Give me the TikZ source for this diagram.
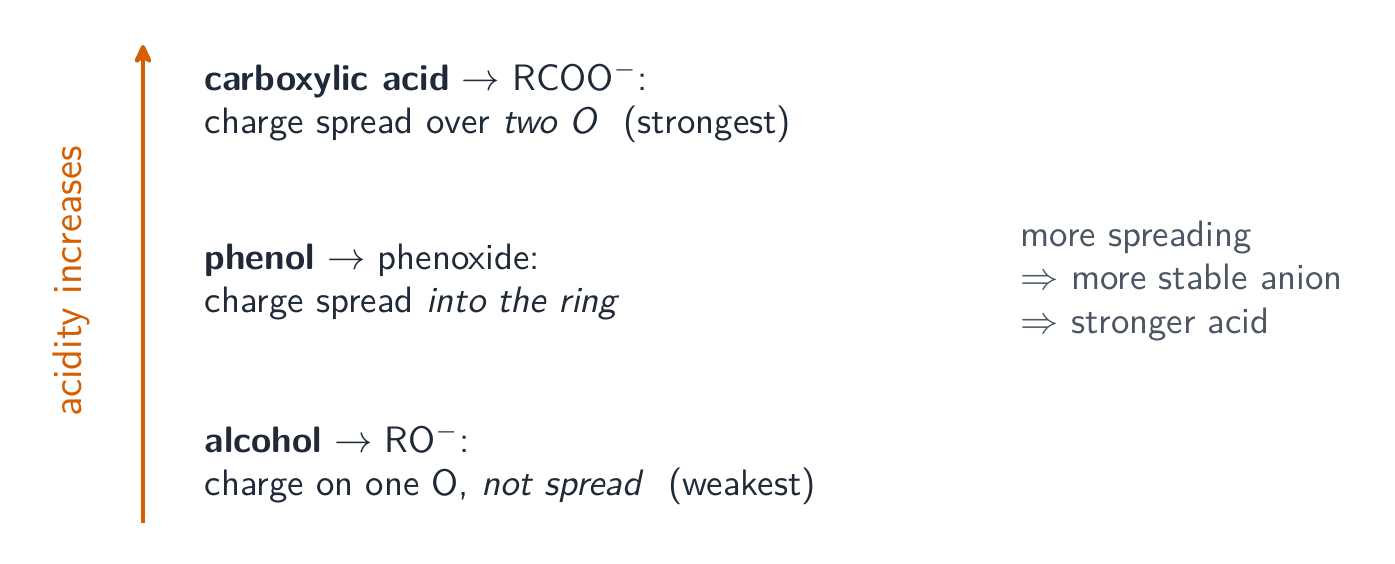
\documentclass[tikz,border=0pt]{standalone}
\usepackage{amsmath, amssymb}
\usepackage{xcolor}
\usetikzlibrary{arrows.meta, positioning, calc}

\definecolor{acidorange}{HTML}{D55E00}
\definecolor{inkdark}{HTML}{1F2937}
\definecolor{inkgray}{HTML}{4B5563}

\tikzset{
  acidtext/.style={font=\sffamily\fontsize{10.5}{12.4}\selectfont, text=inkdark, align=left, anchor=base west, inner sep=0pt},
  notetext/.style={font=\sffamily\fontsize{10.5}{12.4}\selectfont, text=inkgray, align=left, anchor=base west, inner sep=0pt},
  trend/.style={draw=acidorange, line width=1.2pt, -{Stealth[round, length=7pt, width=6.4pt]}},
}

\begin{document}
\begin{tikzpicture}
      \useasboundingbox (0,0) rectangle (14.01,5.664);

      \coordinate (bot) at (1.436,0.412);
      \coordinate (top) at (1.436,5.212);
      \draw [trend] (bot) -- (top);
      \node (trendlabel) [font=\sffamily\fontsize{11.8}{14}\selectfont, text=acidorange, rotate=90, anchor=base, inner sep=0pt]
            at ($(bot)!0.5!(top)+(-0.613,0.024)$) {acidity increases};

      % base anchor sits on the last line
      \node (carbox) [acidtext] at (2.049,4.323)
            {\textbf{carboxylic acid} $\to$ RCOO$^-$:\\charge spread over \emph{two O}\ \ (strongest)};
      \node (phenol) [acidtext] at (2.049,2.526)
            {\textbf{phenol} $\to$ phenoxide:\\charge spread \emph{into the ring}};
      \node (alcohol) [acidtext] at (2.049,0.683)
            {\textbf{alcohol} $\to$ RO$^-$:\\charge on one O, \emph{not spread}\ \ (weakest)};

      \node (note) [notetext] at (10.243,2.317)
            {more spreading\\$\Rightarrow$ more stable anion\\$\Rightarrow$ stronger acid};
    \end{tikzpicture}
\end{document}
